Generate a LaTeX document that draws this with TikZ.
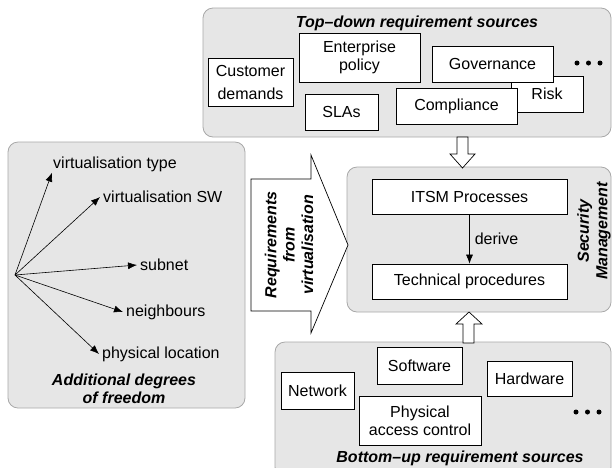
\documentclass[tikz,border=0pt]{standalone}
\usepackage{fontspec}
\setmainfont{Liberation Sans}
\usetikzlibrary{arrows.meta}
\definecolor{panelfill}{HTML}{E6E6E6}
\definecolor{paneldraw}{HTML}{A8A8A8}
\newcommand\fs{\fontsize{16}{18.4}\selectfont}
\tikzset{
  panel/.style={draw=paneldraw, fill=panelfill, rounded corners=10pt, line width=0.8pt, inner sep=0pt},
  srcbox/.style={draw=black, fill=white, line width=0.7pt, inner sep=0pt, align=center, font=\fs},
  ttl/.style={font=\fs\bfseries\itshape, align=center, inner sep=0pt},
  lbl/.style={font=\fs, anchor=west, inner sep=3pt},
  fan/.style={-{Latex[length=9pt,width=7pt]}, line width=0.6pt},
  hollow/.style={draw=black, fill=white, line width=0.7pt, line join=miter},
  dot/.style={circle, fill=black, inner sep=0pt, minimum size=5pt}
}
\begin{document}
\begin{tikzpicture}[x=1pt, y=-1pt]
\useasboundingbox (0,0) rectangle (612,467);

% panels
\node[panel, minimum width=408pt, minimum height=129pt] (toppanel) at (407,72.5) {};
\node[panel, minimum width=237pt, minimum height=266pt] (leftpanel) at (126.5,275) {};
\node[panel, minimum width=264pt, minimum height=145pt] (secpanel) at (479,239.5) {};
\node[panel, minimum width=336pt, minimum height=135pt] (botpanel) at (443,409.5) {};

% top-down sources
\node[ttl] (toptitle) at (417,23) {Top--down requirement sources};
\node[srcbox, minimum width=85pt, minimum height=48pt] (cust) at (250.5,82) {Customer\\[4.6pt]demands};
\node[srcbox, minimum width=121pt, minimum height=49pt] (ent) at (359.5,57.5) {Enterprise\\policy};
\node[srcbox, minimum width=73pt, minimum height=36pt] (sla) at (341.5,112) {SLAs};
\node[srcbox, minimum width=72pt, minimum height=36pt] (risk) at (547,94) {Risk};
\node[srcbox, minimum width=121pt, minimum height=36pt] (gov) at (492.5,64) {Governance};
\node[srcbox, minimum width=121pt, minimum height=36pt] (comp) at (456.5,106) {Compliance};
\node[dot] (td1) at (577,63) {};
\node[dot] (td2) at (588.5,63) {};
\node[dot] (td3) at (600,63) {};

% left panel: degrees of freedom
\coordinate (o) at (15,275);
\node[lbl, inner sep=1pt] (vt) at (52,164) {virtualisation type};
\node[lbl] (vsw) at (100,197) {virtualisation SW};
\node[lbl] (sub) at (137,265) {subnet};
\node[lbl] (nb) at (123,312) {neighbours};
\node[lbl] (pl) at (99,354) {physical location};
\draw[fan] (o) -- (vt.south west);
\draw[fan] (o) -- (vsw.west);
\draw[fan] (o) -- (sub.west);
\draw[fan] (o) -- (nb.west);
\draw[fan] (o) -- (pl.west);
\node[ttl] (dof) at (124,389) {Additional degrees\\of freedom};

% big arrow
\draw[hollow] (251,179) -- (311,179) -- (311,155) -- (348,245) -- (311,333) -- (311,311) -- (251,311) -- cycle;
\node[ttl, rotate=90] (req) at (289,245) {Requirements\\from\\virtualisation};

% security management
\node[srcbox, minimum width=195pt, minimum height=35pt] (itsm) at (469.5,196.5) {ITSM Processes};
\node[srcbox, minimum width=195pt, minimum height=35pt] (tech) at (469.5,281.5) {Technical procedures};
\draw[fan] (itsm) -- node[right, font=\fs, inner sep=5pt] (derive) {derive} (tech);
\node[ttl, rotate=90] (secm) at (594,231) {Security\\Management};

% hollow arrows between panels
\draw[hollow] (457,137) -- (468,137) -- (468,154) -- (475,154) -- (462.5,168) -- (450,154) -- (457,154) -- cycle;
\draw[hollow] (463,343) -- (474,343) -- (474,324) -- (482,324) -- (469,312) -- (456,324) -- (463,324) -- cycle;

% bottom-up sources
\node[srcbox, minimum width=73pt, minimum height=37pt] (net) at (317.5,390.5) {Network};
\node[srcbox, minimum width=85pt, minimum height=37pt] (sw) at (419.5,365.5) {Software};
\node[srcbox, minimum width=85pt, minimum height=35pt] (hw) at (529.5,378.5) {Hardware};
\node[srcbox, minimum width=122pt, minimum height=49pt] (pac) at (420,420.5) {Physical\\access control};
\node[dot] (bu1) at (576,412) {};
\node[dot] (bu2) at (587.5,412) {};
\node[dot] (bu3) at (599,412) {};
\node[ttl] (bottitle) at (460,458) {Bottom--up requirement sources};
\end{tikzpicture}
\end{document}
